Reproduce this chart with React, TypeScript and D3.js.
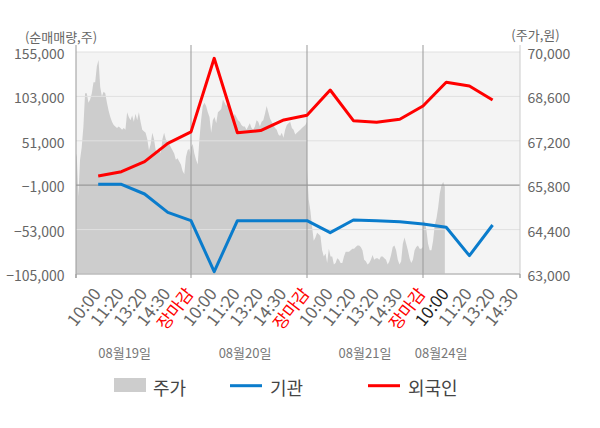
import React from "react";
import * as d3 from "d3";

// ---------- data ----------
const timeLabels = [
  "10:00", "11:20", "13:20", "14:30", "장마감",
  "10:00", "11:20", "13:20", "14:30", "장마감",
  "10:00", "11:20", "13:20", "14:30", "장마감",
  "10:00", "11:20", "13:20", "14:30",
];
const dateLabels = ["08월19일", "08월20일", "08월21일", "08월24일"];
const leftTicks = [-105000, -53000, -1000, 51000, 103000, 155000];
const rightTicks = [63000, 64400, 65800, 67200, 68600, 70000];

// 기관 (institution) cumulative net volume at each time label
const instNet = [
  0, 0, -11300, -32800, -42500,
  -102300, -42500, -42500, -42500, -42500,
  -56600, -41800, -42500, -43700, -46400,
  -50300, -83500, -47600,
];
// 외국인 (foreign) cumulative net volume
const foreignNet = [
  9800, 14800, 26600, 48000, 61500,
  147600, 60500, 63000, 75400, 81000,
  110500, 74600, 72700, 76200, 91800,
  119500, 115200, 98800,
];

// 주가 (price) intraday samples per day
const priceDay1 = [
  66500, 66800, 65450, 66600, 67000, 67650, 68700, 68700, 68400, 68500,
  68700, 69050, 69050, 69550, 69750, 68900, 68600, 68750, 68700, 68400,
  68150, 67950, 67800, 67700, 67650, 67600, 67650, 67600, 67550, 67600,
  67550, 68100, 67950, 67850, 68000, 67800, 68050, 67850, 68100, 67800,
  67550, 67500, 67450, 67250, 66900, 67100, 67450, 67250, 66900, 66850,
  67000, 66800, 67250, 67450, 67250, 67150, 67100, 67000, 66900, 66800,
  66600, 66650, 66550, 66450, 66250, 66150, 66700, 66900, 66950, 66700,
];
const priceDay2 = [
  67000, 67100, 66800, 66600, 66450, 67250, 67850, 68300, 68400, 68300,
  68100, 67950, 67450, 67850, 67950, 67750, 68100, 68150, 68200, 68500,
  68400, 68300, 68500, 68100, 68000, 67850, 68050, 67950, 67850, 67800,
  67700, 67650, 67650, 67550, 67650, 67750, 67600, 67550, 67650, 67850,
  67800, 67650, 67800, 67850, 68050, 68300, 68100, 67900, 67800, 67700,
  67600, 67550, 67400, 67350, 67450, 67300, 67550, 67700, 67750, 67800,
  67600, 67550, 67400, 67450, 67500, 67550, 67600, 67650, 67700, 67800,
];
const priceDay3 = [
  66300, 65350, 65000, 64500, 64050, 64150, 64300, 64250, 64200, 63750,
  63550, 63650, 63350, 63800, 63550, 63550, 63300, 63350, 63500, 63450,
  63350, 63350, 63550, 63700, 63700, 63700, 63750, 63800, 63800, 63850,
  63900, 63900, 63850, 63750, 63450, 63400, 63300, 63350, 63450, 63600,
  63450, 63500, 63500, 63450, 63550, 63550, 63500, 63450, 63300, 63400,
  63600, 63850, 63900, 63750, 63450, 63300, 63400, 63950, 64150, 63950,
  63750, 63500, 63350, 63450, 63750, 63850, 63900, 63800, 63800, 63850,
];
const priceDay4 = [
  64700, 64650, 64400, 63950, 63750, 63750, 64050, 64550, 64750, 65100,
  65550, 65800, 65900, 65750,
];

// ---------- layout ----------
const W = 600;
const H = 428;
const PL = 76;
const PR = 520;
const PT = 52;
const PB = 274;
const FONT = "'Noto Sans CJK KR', 'Noto Sans', sans-serif";
const SLOTS_PER_DAY = 5;
const SAMPLES_PER_DAY = 70;
const dateLabelSlot = [2.14, 7.33, 12.5, 15.78];

const fmt = d3.format(",");

export default function App() {
  const x = d3.scaleLinear().domain([0, 19]).range([75, 515.8]);
  const yL = d3.scaleLinear().domain([-105000, 155000]).range([PB, PT]);
  const yR = d3.scaleLinear().domain([63000, 70000]).range([PB, PT]);

  type P = { s: number; v: number };
  const priceDays = [priceDay1, priceDay2, priceDay3, priceDay4];
  const pricePts: P[] = priceDays.flatMap((arr, d) =>
    arr.map((v, i) => ({
      s: d * SLOTS_PER_DAY + (i * SLOTS_PER_DAY) / (SAMPLES_PER_DAY - 1),
      v,
    }))
  );
  const areaGen = d3
    .area<P>()
    .x((p) => x(p.s))
    .y0(PB)
    .y1((p) => yR(p.v));

  const lineL = d3
    .line<number>()
    .x((_, i) => x(i + 1))
    .y((v) => yL(v));

  const dayBounds = [5, 10, 15];

  return (
    <div style={{ position: "absolute", left: 0, top: 0 }}>
      <svg width={W} height={H} style={{ display: "block", background: "#fff" }}>
        <defs>
          <clipPath id="plotclip">
            <rect x={PL} y={PT} width={PR - PL} height={PB - PT} />
          </clipPath>
        </defs>
        {/* plot background */}
        <rect x={PL} y={PT} width={PR - PL} height={PB - PT} fill="#f4f4f4" />
        {/* price area */}
        <path d={areaGen(pricePts) || ""} fill="#cdcdcd" clipPath="url(#plotclip)" />
        {/* horizontal grid */}
        {leftTicks.map((t) => (
          <line
            key={"g" + t}
            x1={PL}
            x2={PR}
            y1={yL(t)}
            y2={yL(t)}
            stroke={t === -1000 ? "#999" : "#e0e0e0"}
            strokeWidth={t === -1000 ? 1.2 : 1}
          />
        ))}
        {/* day separators */}
        {dayBounds.map((s) => (
          <line key={"v" + s} x1={x(s)} x2={x(s)} y1={45} y2={PB} stroke="#999" strokeWidth={1} />
        ))}
        {/* axes */}
        <line x1={PL} x2={PL} y1={45} y2={PB + 4} stroke="#999" />
        <line x1={PR} x2={PR} y1={45} y2={PB + 4} stroke="#ccc" />
        <line x1={PL} x2={PR} y1={PB} y2={PB} stroke="#aaa" />
        {[...dayBounds.map((s) => x(s)), PL, PR].map((xx, i) => (
          <line key={"t" + i} x1={xx} x2={xx} y1={PB} y2={PB + 4} stroke="#999" />
        ))}
        {/* lines */}
        <path d={lineL(instNet) || ""} fill="none" stroke="#0a7ccc" strokeWidth={3} strokeLinejoin="round" />
        <path d={lineL(foreignNet) || ""} fill="none" stroke="#ff0000" strokeWidth={3} strokeLinejoin="round" />
        {/* left ticks */}
        {leftTicks.map((t) => (
          <text
            key={"l" + t}
            x={64.5}
            y={yL(t) + 1}
            textAnchor="end"
            dominantBaseline="central"
            fontFamily={FONT}
            fontSize={14}
            fill="#666"
          >
            {fmt(t)}
          </text>
        ))}
        {/* right ticks */}
        {rightTicks.map((t) => (
          <text
            key={"r" + t}
            x={527.5}
            y={yR(t) + 1}
            textAnchor="start"
            dominantBaseline="central"
            fontFamily={FONT}
            fontSize={14}
            fill="#666"
          >
            {fmt(t)}
          </text>
        ))}
        {/* axis titles */}
        <text x={61} y={36} textAnchor="middle" dominantBaseline="central" fontFamily={FONT} fontSize={13} fill="#666">
          (순매매량,주)
        </text>
        <text x={535.5} y={34.5} textAnchor="middle" dominantBaseline="central" fontFamily={FONT} fontSize={13} fill="#666">
          (주가,원)
        </text>
        {/* x labels */}
        {timeLabels.map((lab, i) => {
          const xx = x(i + 1) + 3.5;
          const color = lab === "장마감" ? "#ff0000" : i === 15 ? "#222" : "#666";
          return (
            <text
              key={"x" + i}
              transform={`translate(${xx},294) rotate(-52)`}
              textAnchor="end"
              fontFamily={FONT}
              fontSize={17}
              fill={color}
            >
              {lab}
            </text>
          );
        })}
        {/* date labels */}
        {dateLabels.map((d, i) => (
          <text
            key={"d" + i}
            x={x(dateLabelSlot[i])}
            y={352}
            textAnchor="middle"
            dominantBaseline="central"
            fontFamily={FONT}
            fontSize={13}
            fill="#777"
          >
            {d}
          </text>
        ))}
        {/* legend */}
        <rect x={114} y={378} width={32} height={14} fill="#cdcdcd" />
        <text x={153} y={386.5} dominantBaseline="central" fontFamily={FONT} fontSize={18} fill="#444">
          주가
        </text>
        <line x1={230} x2={262} y1={385.7} y2={385.7} stroke="#0a7ccc" strokeWidth={3} />
        <text x={270} y={386.5} dominantBaseline="central" fontFamily={FONT} fontSize={18} fill="#444">
          기관
        </text>
        <line x1={368} x2={400} y1={385.7} y2={385.7} stroke="#ff0000" strokeWidth={3} />
        <text x={408} y={386.5} dominantBaseline="central" fontFamily={FONT} fontSize={18} fill="#444">
          외국인
        </text>
      </svg>
    </div>
  );
}
